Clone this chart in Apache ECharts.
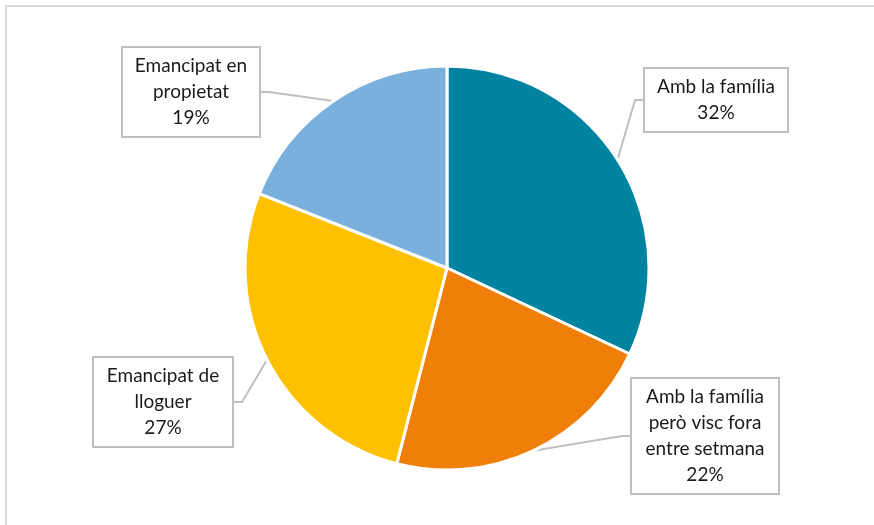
<!DOCTYPE html>
<html lang="ca">
<head>
<meta charset="UTF-8">
<title>Situació residencial</title>
<script src="https://cdn.jsdelivr.net/npm/echarts@6/dist/echarts.min.js"></script>
<style>
  html, body { margin: 0; padding: 0; background: #fff; }
  #main { width: 874px; height: 525px; }
</style>
</head>
<body>
<div id="main"></div>
<script>
// dades
var categories = ['Amb la família', 'Amb la família però visc fora entre setmana', 'Emancipat de lloguer', 'Emancipat en propietat'];
var labelNames = ['Amb la família', 'Amb la família\nperò visc fora\nentre setmana', 'Emancipat de\nlloguer', 'Emancipat en\npropietat'];
var values = [32, 22, 27, 19];
var colors = ['#0083a1', '#f07f09', '#ffc000', '#7ab0de'];

// on van les caixes de les etiquetes (centre) i l'amplada
var boxPos = [[716, 100], [705, 436], [163, 402], [191, 92]];
var boxWidth = [130, 134, 126, 124];

var myChart = echarts.init(document.getElementById('main'));

var data = [];
for (var i = 0; i < categories.length; i++) {
  data.push({
    name: categories[i],
    value: values[i],
    itemStyle: { color: colors[i] },
    label: { width: boxWidth[i] }
  });
}

var option = {
  animation: false,
  graphic: [{
    type: 'rect',
    shape: { x: 6, y: 6, width: 880, height: 540 },
    style: { fill: 'none', stroke: '#d9d9d9', lineWidth: 2 },
    silent: true
  }],
  series: [{
    type: 'pie',
    center: [447, 268],
    radius: 202,
    startAngle: 90,
    clockwise: true,
    data: data,
    itemStyle: { borderColor: '#fff', borderWidth: 3 },
    label: {
      show: true,
      position: 'outside',
      formatter: function (p) {
        return labelNames[p.dataIndex] + '\n' + p.value + '%';
      },
      color: '#1a1a1a',
      fontFamily: 'Lato',
      fontSize: 19,
      lineHeight: 26,
      align: 'center',
      backgroundColor: '#fff',
      borderColor: '#bfbfbf',
      borderWidth: 2,
      padding: [5, 6]
    },
    labelLine: {
      show: true,
      length: 8,
      length2: 8,
      lineStyle: { color: '#bfbfbf', width: 2 }
    },
    labelLayout: function (p) {
      var pos = boxPos[p.dataIndex];
      return { x: pos[0], y: pos[1], align: 'center', verticalAlign: 'middle', moveOverlap: false };
    }
  }]
};

myChart.setOption(option);
</script>
</body>
</html>
